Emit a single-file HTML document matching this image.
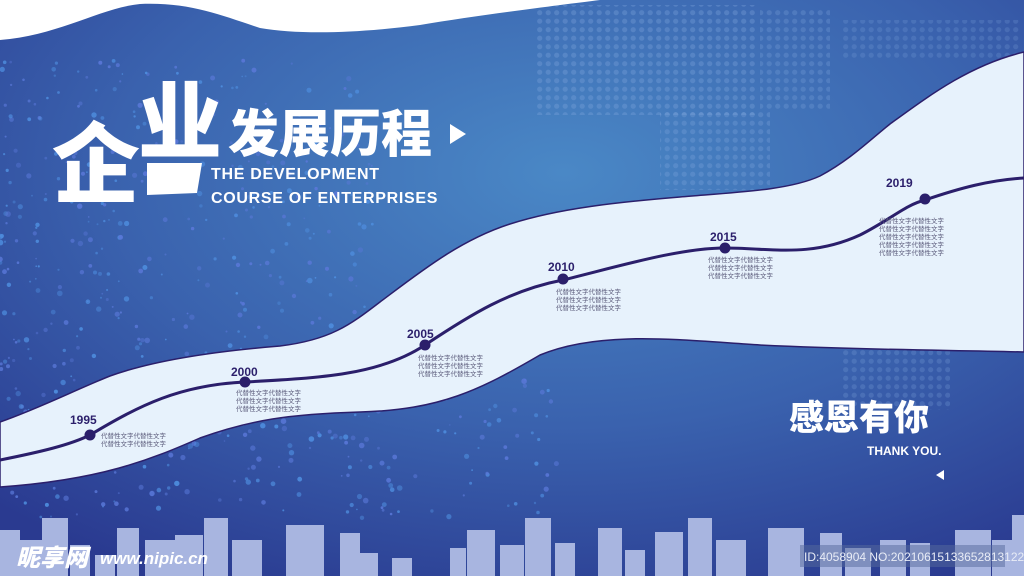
<!DOCTYPE html>
<html><head><meta charset="utf-8"><style>
html,body{margin:0;padding:0;}
body{width:1024px;height:576px;overflow:hidden;position:relative;font-family:"Liberation Sans","Noto Sans CJK SC",sans-serif;}
svg{position:absolute;left:0;top:0}
</style></head><body>
<svg width="1024" height="576" viewBox="0 0 1024 576" xmlns="http://www.w3.org/2000/svg">
<defs>
<radialGradient id="bg" cx="0.55" cy="0.3" r="0.8">
<stop offset="0" stop-color="#4a88c6"/>
<stop offset="0.55" stop-color="#3a62ae"/>
<stop offset="1" stop-color="#2a3a90"/>
</radialGradient>
<pattern id="dots" width="8.5" height="8.5" patternUnits="userSpaceOnUse"><circle cx="4.2" cy="4.2" r="2.6" fill="#7fa6dc" opacity="0.55"/></pattern>
</defs>
<rect width="1024" height="576" fill="url(#bg)"/>
<!-- world map dots -->
<rect x="535" y="5" width="220" height="110" fill="url(#dots)" opacity="0.6"/>
<rect x="760" y="10" width="70" height="100" fill="url(#dots)" opacity="0.5"/>
<rect x="660" y="110" width="110" height="80" fill="url(#dots)" opacity="0.55"/>
<rect x="840" y="20" width="180" height="40" fill="url(#dots)" opacity="0.4"/>
<rect x="840" y="350" width="110" height="60" fill="url(#dots)" opacity="0.45"/>
<g id="parts"></g>
<!-- top white wave -->
<path d="M0,0 L600,0 C560,5 480,15 420,25 C360,33 300,35 260,28 C220,15 190,2 140,4 C100,8 60,35 0,40 Z" fill="#ffffff"/>
<!-- band -->
<path d="M0,422 C40,408 75,390 110,376 C160,358 230,350 280,346 C330,340 350,325 380,302 C420,272 460,240 510,224 C560,208 620,202 680,197 C740,192 790,190 820,176 C850,160 870,140 890,124 C930,95 970,65 1024,52 L1024,352 C950,350 860,350 760,345 C680,340 600,330 540,355 C480,390 440,410 360,412 C290,414 250,420 200,438 C150,460 100,480 0,487 Z" fill="#e7f2fc" stroke="#2b1f6b" stroke-width="1.5"/>
<!-- timeline -->
<path d="M0,460 C40,452 70,445 90,435 C140,405 180,385 245,382 C320,378 380,375 425,345 C470,315 510,290 563,280 C620,266 680,248 725,248 C770,248 810,258 860,235 C890,220 905,205 925,200 C960,188 990,180 1024,178" fill="none" stroke="#2b1f6b" stroke-width="3"/>
<g fill="#2b1f6b">
<circle cx="90" cy="435" r="5.5"/><circle cx="245" cy="382" r="5.5"/><circle cx="425" cy="345" r="5.5"/>
<circle cx="563" cy="279" r="5.5"/><circle cx="725" cy="248" r="5.5"/><circle cx="925" cy="199" r="5.5"/>
</g>
<g font-family="Liberation Sans, sans-serif" font-weight="bold" font-size="12" fill="#2b1f6b">
<text x="70" y="424">1995</text><text x="231" y="376">2000</text><text x="407" y="338">2005</text>
<text x="548" y="271">2010</text><text x="710" y="241">2015</text><text x="886" y="187">2019</text>
</g>
<g font-family="Noto Sans CJK SC, sans-serif" font-size="6.5" fill="#5a5a7a">
<text x="101" y="438">代替性文字代替性文字</text><text x="101" y="446">代替性文字代替性文字</text>
<text x="236" y="395">代替性文字代替性文字</text><text x="236" y="403">代替性文字代替性文字</text><text x="236" y="411">代替性文字代替性文字</text>
<text x="418" y="360">代替性文字代替性文字</text><text x="418" y="368">代替性文字代替性文字</text><text x="418" y="376">代替性文字代替性文字</text>
<text x="556" y="294">代替性文字代替性文字</text><text x="556" y="302">代替性文字代替性文字</text><text x="556" y="310">代替性文字代替性文字</text>
<text x="708" y="262">代替性文字代替性文字</text><text x="708" y="270">代替性文字代替性文字</text><text x="708" y="278">代替性文字代替性文字</text>
<text x="879" y="223">代替性文字代替性文字</text><text x="879" y="231">代替性文字代替性文字</text><text x="879" y="239">代替性文字代替性文字</text><text x="879" y="247">代替性文字代替性文字</text><text x="879" y="255">代替性文字代替性文字</text>
</g>
<!-- title -->
<polygon points="147,163 202,163 197,193 147,195" fill="#fff"/>
<text x="52" y="196" font-family="Noto Sans CJK SC, sans-serif" font-weight="900" font-size="88" fill="#fff">企</text>
<text x="138" y="152" font-family="Noto Sans CJK SC, sans-serif" font-weight="900" font-size="84" fill="#fff">业</text>
<text x="228" y="152" font-family="Noto Sans CJK SC, sans-serif" font-weight="900" font-size="51" fill="#fff">发展历程</text>
<polygon points="450,124 450,144 466,134" fill="#fff"/>
<g font-family="Liberation Sans, sans-serif" font-weight="bold" font-size="16" fill="#fff" letter-spacing="0.7">
<text x="211" y="179">THE DEVELOPMENT</text>
<text x="211" y="203">COURSE OF ENTERPRISES</text>
</g>
<text x="789" y="430" font-family="Noto Sans CJK SC, sans-serif" font-weight="900" font-size="35" fill="#fff">感恩有你</text>
<text x="867" y="455" font-family="Liberation Sans, sans-serif" font-weight="bold" font-size="12" fill="#fff">THANK YOU.</text>
<polygon points="944,470 944,480 936,475" fill="#fff"/>
<!-- buildings -->
<g fill="#a8b5e0">
<rect x="0" y="530" width="20" height="46"/><rect x="18" y="540" width="30" height="36"/><rect x="42" y="518" width="26" height="58"/>
<rect x="70" y="545" width="20" height="31"/><rect x="95" y="555" width="20" height="21"/><rect x="117" y="528" width="22" height="48"/>
<rect x="145" y="540" width="30" height="36"/><rect x="175" y="535" width="28" height="41"/><rect x="204" y="518" width="24" height="58"/>
<rect x="232" y="540" width="30" height="36"/><rect x="286" y="525" width="38" height="51"/><rect x="340" y="533" width="20" height="43"/>
<rect x="360" y="553" width="18" height="23"/><rect x="392" y="558" width="20" height="18"/><rect x="450" y="548" width="16" height="28"/>
<rect x="467" y="530" width="28" height="46"/><rect x="500" y="545" width="24" height="31"/><rect x="525" y="518" width="26" height="58"/>
<rect x="555" y="543" width="20" height="33"/><rect x="598" y="528" width="24" height="48"/><rect x="625" y="550" width="20" height="26"/>
<rect x="655" y="532" width="28" height="44"/><rect x="688" y="518" width="24" height="58"/><rect x="716" y="540" width="30" height="36"/>
<rect x="768" y="528" width="36" height="48"/><rect x="820" y="533" width="22" height="43"/><rect x="845" y="548" width="26" height="28"/>
<rect x="880" y="540" width="26" height="36"/><rect x="910" y="543" width="20" height="33"/><rect x="955" y="530" width="36" height="46"/>
<rect x="992" y="540" width="32" height="36"/><rect x="1012" y="515" width="12" height="61"/>
</g>
<rect x="800" y="545" width="205" height="22" fill="#556a9c" opacity="0.5"/>
<text x="804" y="561" font-family="Liberation Sans, sans-serif" font-size="12" fill="#e8ecf6">ID:4058904 NO:20210615133652813122</text>
<text x="16" y="566" font-family="Noto Sans CJK SC, sans-serif" font-weight="900" font-style="italic" font-size="24" fill="#fff">昵享网</text>
<text x="100" y="564" font-family="Liberation Sans, sans-serif" font-weight="bold" font-style="italic" font-size="17" fill="#fff">www.nipic.cn</text>
</svg>
<script>
(function(){
var g=document.getElementById('parts'),s=12345,ns='http://www.w3.org/2000/svg';
function r(){s=(s*16807)%2147483647;return s/2147483647;}
for(var i=0;i<650;i++){
 var x,y;
 if(i<450){x=Math.pow(r(),1.3)*380;y=60+r()*400;}else{x=r()*560;y=380+r()*140;}
 var c=document.createElementNS(ns,'circle');
 c.setAttribute('cx',x.toFixed(1));c.setAttribute('cy',y.toFixed(1));
 c.setAttribute('r',(0.8+r()*2).toFixed(1));
 c.setAttribute('fill',r()<0.5?'#4f8fe0':'#5a78d8');
 c.setAttribute('opacity',(0.4+r()*0.5).toFixed(2));
 g.appendChild(c);
}
})();
</script>
</body></html>
